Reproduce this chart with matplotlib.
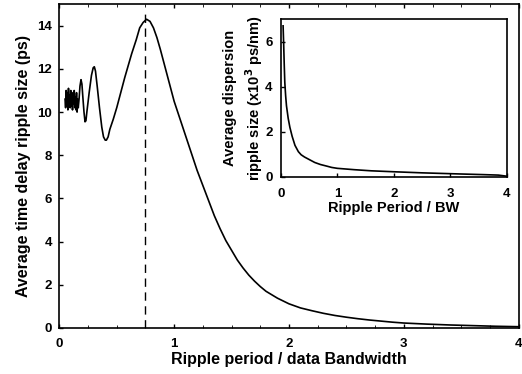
import matplotlib.pyplot as plt

plt.rcParams['font.family'] = ['Liberation Sans', 'DejaVu Sans']
plt.rcParams['font.weight'] = 'bold'

# main curve: average time delay ripple size (ps) vs ripple period / bandwidth
period = [0.05, 0.055, 0.06, 0.065, 0.07, 0.075, 0.08, 0.085, 0.09, 0.095,
          0.10, 0.105, 0.11, 0.115, 0.12, 0.125, 0.13, 0.135, 0.14, 0.145,
          0.15, 0.155, 0.16, 0.165, 0.172, 0.18, 0.189, 0.197, 0.205, 0.215,
          0.224, 0.232, 0.24, 0.26, 0.28, 0.295, 0.305, 0.315, 0.33, 0.35,
          0.37, 0.385, 0.40, 0.41, 0.425, 0.44, 0.47, 0.50, 0.57, 0.63,
          0.67, 0.70, 0.73, 0.76, 0.79, 0.82, 0.85, 0.88, 0.92, 0.96,
          1.00, 1.05, 1.10, 1.15, 1.20, 1.25, 1.30, 1.35, 1.40, 1.45,
          1.50, 1.55, 1.60, 1.65, 1.70, 1.75, 1.80, 1.90, 2.00, 2.10,
          2.20, 2.30, 2.40, 2.50, 2.60, 2.70, 2.80, 2.90, 3.00, 3.20,
          3.40, 3.60, 3.80, 4.00]
delay = [10.6, 10.2, 11.0, 10.3, 10.9, 10.1, 11.1, 10.4, 10.8, 10.2,
         11.0, 10.3, 10.9, 10.1, 10.8, 10.4, 11.0, 10.2, 10.7, 10.1,
         10.9, 10.0, 10.6, 10.2, 10.6, 11.2, 11.5, 11.3, 10.7, 10.0,
         9.55, 9.6, 10.0, 10.9, 11.7, 12.05, 12.1, 11.9, 11.2, 10.2,
         9.3, 8.85, 8.7, 8.7, 8.85, 9.2, 9.67, 10.2, 11.6, 12.7,
         13.35, 13.9, 14.15, 14.3, 14.2, 13.9, 13.45, 12.9, 12.1, 11.3,
         10.5, 9.7, 8.9, 8.1, 7.3, 6.6, 5.9, 5.2, 4.6, 4.05,
         3.6, 3.15, 2.78, 2.45, 2.17, 1.92, 1.7, 1.38, 1.12, 0.93,
         0.8, 0.68, 0.58, 0.5, 0.43, 0.37, 0.32, 0.27, 0.23, 0.18,
         0.14, 0.11, 0.08, 0.06]

# inset: average dispersion ripple size (x10^3 ps/nm) vs ripple period / BW
period_bw = [0.04, 0.05, 0.06, 0.07, 0.085, 0.1, 0.13, 0.16, 0.2, 0.25,
             0.31, 0.36, 0.42, 0.51, 0.6, 0.7, 0.81, 0.9, 1.0, 1.3,
             1.6, 1.98, 2.5, 3.17, 3.6, 3.85, 4.0]
dispersion = [6.7, 5.9, 5.0, 4.2, 3.6, 3.15, 2.6, 2.2, 1.8, 1.4,
              1.12, 0.98, 0.88, 0.76, 0.64, 0.55, 0.48, 0.42, 0.38, 0.32,
              0.27, 0.23, 0.18, 0.13, 0.1, 0.08, 0.03]

peak_period = 0.75

fig = plt.figure(figsize=(5.22, 3.74), dpi=100)
ax = fig.add_axes([0.1136, 0.123, 0.880, 0.866])
ax.plot(period, delay, color='black', lw=1.2)
ax.plot([peak_period, peak_period], [0, 14.7], color='black', lw=1.0,
        ls=(0, (6, 4)))
ax.set_xlim(0, 4)
ax.set_ylim(0, 15)
ax.set_xticks([0, 1, 2, 3, 4])
ax.set_xticks([0.25 * i for i in range(17)], minor=True)
ax.set_yticks(range(0, 15, 2))
ax.tick_params(direction='in', top=True, right=False, labelsize=9.5,
               length=3, width=1)
ax.tick_params(axis='x', pad=7)
ax.tick_params(axis='y', pad=5)
ax.tick_params(which='minor', direction='in', top=True, length=2)
ax.set_xlabel('Ripple period / data Bandwidth', fontsize=11.5, labelpad=2,
              fontweight='bold')
ax.set_ylabel('Average time delay ripple size (ps)', fontsize=11.5,
              labelpad=5, fontweight='bold')
for s in ax.spines.values():
    s.set_linewidth(1.2)

ins = fig.add_axes([0.538, 0.527, 0.433, 0.422])
ins.plot(period_bw, dispersion, color='black', lw=1.2)
ins.set_xlim(0, 4)
ins.set_ylim(0, 7)
ins.set_xticks([0, 1, 2, 3, 4])
ins.set_yticks([0, 2, 4, 6])
ins.tick_params(direction='in', labelsize=9.5, length=3, width=1)
ins.tick_params(axis='x', pad=8)
ins.tick_params(axis='y', pad=6)
ins.set_xlabel('Ripple Period / BW', fontsize=10.5, labelpad=1,
               fontweight='bold')
ins.set_ylabel('Average dispersion\nripple size (x10$^{3}$ ps/nm)',
               fontsize=10.5, labelpad=0, fontweight='bold',
               linespacing=1.4)
for s in ins.spines.values():
    s.set_linewidth(1.2)

fig.savefig('out.png', dpi=100)
